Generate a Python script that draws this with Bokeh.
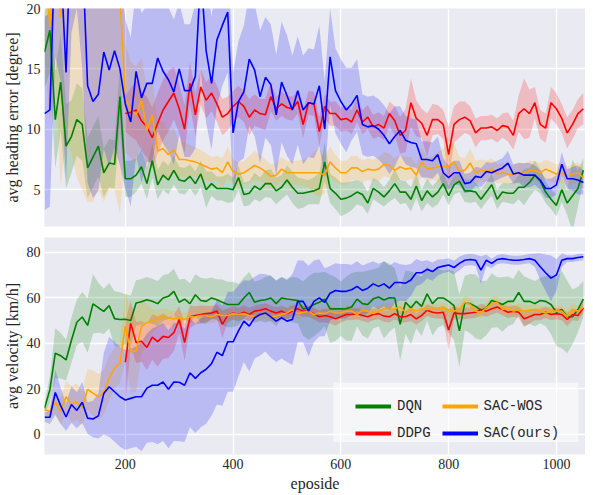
import numpy as np
from bokeh.plotting import figure
from bokeh.layouts import column
from bokeh.models import Legend, LegendItem, FixedTicker, Range1d, BoxAnnotation
from bokeh.embed import file_html
from bokeh.resources import INLINE

# ---------------- data ----------------
EP = list(range(50, 1051, 10))          # episodes 50..1050
EP_DDPG = list(range(200, 1051, 10))    # DDPG starts at 200
X_TICKS = [200, 400, 600, 800, 1000]
Y_TICKS_HEAD = [5, 10, 15, 20]
Y_TICKS_VEL = [0, 20, 40, 60, 80]

# --- avg heading error [degree] ---
DQN_HEAD = [16.4, 18.2, 10.8, 13.9, 8.6, 9.4, 10.8, 10.4, 6.8, 7.7,
            8.6, 6.4, 7.2, 7.1, 12.7, 5.9, 5.9, 6.2, 6.9, 5.5,
            7.4, 5.4, 6.2, 5.8, 6.6, 5.8, 5.7, 6.1, 5.5, 6.3,
            5.0, 5.5, 5.1, 5.1, 5.1, 5.0, 6.0, 4.6, 4.7, 5.3,
            5.0, 5.5, 5.5, 4.9, 5.2, 5.8, 5.2, 4.7, 4.7, 4.8,
            4.9, 5.1, 7.3, 5.1, 4.7, 4.2, 4.3, 4.5, 4.8, 4.6,
            3.9, 5.1, 4.8, 4.4, 4.9, 5.5, 4.8, 4.8, 4.2, 5.3,
            4.1, 4.9, 4.4, 4.8, 5.5, 4.5, 5.4, 5.7, 4.9, 4.9,
            4.8, 4.2, 4.8, 5.4, 4.2, 4.8, 4.7, 4.7, 5.2, 5.2,
            5.6, 6.2, 5.7, 4.8, 4.2, 3.7, 5.0, 3.9, 4.5, 5.1, 6.6]
DQN_HEAD_SD = [3.0, 3.5, 4.0, 4.0, 3.5, 3.0, 3.0, 3.0, 2.5, 2.5,
               2.5, 2.0, 2.0, 2.0, 2.5, 1.5, 1.5, 1.4, 1.4, 1.3,
               1.4, 1.2, 1.2, 1.2, 1.2, 1.1, 1.1, 1.0, 1.0, 1.1,
               1.5, 1.0, 1.0, 1.0, 1.2, 1.0, 1.0, 1.0, 1.0, 1.1,
               1.0, 1.1, 1.2, 1.1, 1.0, 1.2, 1.3, 1.3, 1.2, 1.0,
               1.1, 1.3, 1.6, 1.2, 1.3, 1.4, 1.3, 1.2, 1.0, 1.0,
               0.9, 0.9, 0.9, 0.8, 0.9, 1.2, 1.0, 0.9, 1.0, 1.0,
               0.9, 1.0, 0.9, 1.0, 0.9, 0.8, 0.8, 0.9, 0.9, 1.0,
               0.8, 0.8, 0.8, 0.9, 0.8, 0.8, 0.8, 0.9, 1.0, 1.5,
               1.2, 1.2, 1.0, 0.9, 0.8, 0.9, 1.0, 1.0, 3.0, 1.5, 1.0]

SACWOS_HEAD = [24.0, 18.5, 26.0, 19.3, 27.0, 30.0, 28.0, 27.0, 28.0, 26.0,
               25.0, 24.0, 24.0, 23.0, 21.0, 12.6, 11.6, 11.2, 12.4, 9.9,
               11.2, 8.2, 8.4, 7.9, 8.3, 7.5, 7.5, 7.4, 7.3, 7.1,
               6.9, 6.7, 6.8, 6.4, 7.3, 6.5, 6.3, 6.4, 6.7, 7.0,
               6.8, 6.5, 6.1, 6.2, 6.7, 6.4, 6.4, 6.4, 6.4, 6.4,
               6.4, 6.4, 6.2, 7.3, 6.8, 6.4, 6.4, 6.8, 6.8, 6.5,
               6.7, 6.6, 6.7, 7.1, 7.0, 6.6, 6.9, 6.7, 6.8, 6.2,
               7.3, 6.7, 6.8, 6.9, 6.9, 6.9, 7.3, 6.5, 6.6, 7.2,
               6.4, 6.6, 6.5, 6.7, 6.3, 6.4, 6.3, 6.2, 6.5, 6.3,
               6.6, 6.6, 6.4, 6.7, 6.5, 6.3, 6.4, 6.1, 6.3, 6.4, 6.0]
SACWOS_HEAD_SD = [8, 8, 12, 14, 18, 22, 22, 22, 24, 22,
                  20, 20, 19, 18, 18, 4.5, 4.0, 4.0, 3.5, 3.5,
                  3.0, 2.5, 2.2, 2.0, 1.8, 1.5, 1.4, 1.3, 1.2, 1.2,
                  1.1, 1.0, 1.0, 1.2, 1.3, 1.0, 1.0, 1.0, 1.1, 1.2,
                  1.1, 1.0, 1.0, 1.0, 1.0, 1.0, 1.0, 1.0, 1.1, 1.2,
                  1.8, 2.0, 1.5, 1.3, 1.1, 1.0, 1.0, 1.0, 1.0, 0.9,
                  0.9, 0.9, 1.0, 1.0, 1.0, 1.0, 1.0, 1.0, 0.9, 0.9,
                  1.2, 1.0, 1.0, 1.2, 1.5, 1.8, 1.6, 1.2, 1.0, 1.2,
                  1.0, 0.9, 0.9, 0.9, 0.8, 0.8, 0.8, 0.8, 0.8, 0.8,
                  0.8, 0.8, 0.8, 0.8, 0.8, 0.8, 0.8, 0.8, 0.8, 0.9, 0.9]

DDPG_HEAD = [11.3, 11.4, 11.6, 10.7, 10.2, 9.3, 10.5, 11.6, 12.3, 13.0,
             11.7, 10.0, 13.8, 11.2, 13.5, 12.4, 13.0, 12.1, 11.0, 11.3,
             11.9, 12.3, 11.9, 11.0, 11.6, 11.3, 11.2, 12.7, 11.7, 12.1,
             11.8, 11.7, 12.3, 10.4, 12.2, 12.1, 9.8, 11.9, 11.3, 11.3,
             10.8, 10.9, 10.6, 11.6, 10.6, 11.0, 10.2, 10.4, 10.1, 11.3,
             10.7, 9.5, 9.9, 12.2, 10.9, 10.5, 9.5, 10.8, 10.8, 10.4,
             7.9, 10.4, 10.8, 11.0, 10.7, 9.7, 10.1, 10.1, 10.2, 9.9,
             10.3, 10.2, 9.5, 11.3, 11.7, 11.3, 12.2, 10.4, 10.1, 12.2,
             11.7, 10.9, 9.7, 10.4, 11.3, 11.7]
DDPG_HEAD_SD = [1.5, 2.0, 2.5, 2.5, 2.5, 2.5, 2.5, 2.5, 2.5, 2.2,
                2.0, 2.0, 1.8, 1.8, 1.5, 1.5, 1.5, 1.5, 1.5, 1.4,
                1.3, 1.3, 1.3, 1.5, 1.3, 1.2, 1.3, 1.2, 1.0, 1.0,
                1.0, 1.0, 1.0, 1.1, 1.0, 1.0, 1.2, 1.0, 1.0, 1.0,
                1.0, 1.0, 1.0, 1.0, 1.0, 1.0, 1.0, 1.0, 1.0, 1.0,
                1.2, 1.5, 1.8, 2.0, 1.5, 1.2, 1.8, 1.3, 1.2, 1.2,
                2.3, 1.5, 1.5, 1.3, 1.2, 1.2, 1.0, 1.0, 1.0, 1.0,
                1.0, 1.2, 1.2, 1.5, 2.5, 2.0, 1.3, 1.2, 1.2, 1.3,
                1.3, 1.2, 1.3, 1.2, 1.2, 1.3]

SAC_HEAD = [11.3, 11.6, 26.0, 24.0, 14.7, 28.0, 30.0, 25.0, 13.6, 12.3,
            12.9, 16.4, 14.9, 16.5, 15.0, 12.1, 10.6, 14.8, 12.6, 13.8,
            13.8, 15.9, 14.8, 14.1, 13.1, 15.0, 13.2, 13.2, 14.4, 23.0,
            16.5, 13.8, 17.4, 18.6, 19.7, 9.7, 12.3, 13.1, 15.8, 14.9,
            12.7, 14.3, 13.7, 11.2, 13.9, 12.8, 11.6, 13.2, 11.6, 12.2,
            12.1, 13.6, 10.0, 16.0, 13.2, 12.3, 11.6, 12.1, 12.8, 10.4,
            10.2, 10.3, 10.0, 9.5, 8.8, 9.4, 9.9, 9.1, 8.9, 8.8,
            7.5, 7.5, 7.4, 7.9, 6.4, 6.0, 6.4, 6.4, 5.5, 5.6,
            6.1, 6.0, 6.5, 6.4, 6.6, 6.8, 7.2, 6.3, 6.4, 6.2,
            6.2, 6.2, 5.8, 5.1, 5.1, 5.4, 7.1, 5.9, 5.9, 5.8, 5.6]
SAC_HEAD_SD = [8, 8, 10, 10, 9, 10, 10, 10, 8, 8,
               8, 8, 8, 8, 8, 7, 7, 7, 7, 6.5,
               6.5, 6, 6, 6, 6, 5.5, 5.5, 5.5, 6, 8,
               6, 5.5, 5.5, 5, 5, 5, 5, 5.5, 5.5, 5.5,
               5.5, 5, 5, 5, 5, 5, 4.5, 4.5, 4.5, 4.5,
               4.5, 5, 4, 4, 3.5, 3.5, 3.5, 3, 3, 2.5,
               2.5, 2.5, 2.5, 2.5, 2.5, 2.5, 2, 2, 2, 2,
               1.5, 1.5, 1.5, 1.5, 1.2, 1.0, 1.0, 1.0, 0.8, 0.8,
               0.8, 0.8, 0.8, 0.8, 0.8, 0.8, 1.0, 0.8, 0.8, 1.0,
               1.0, 0.8, 0.8, 0.8, 0.8, 0.8, 1.0, 0.8, 1.0, 1.2, 1.0]

# --- avg velocity [km/h] ---
DQN_VEL = [11.3, 19.5, 35.6, 34.5, 32.6, 41.3, 49.2, 51.5, 47.8, 57.3,
           55.6, 54.0, 56.5, 50.8, 50.4, 50.5, 50.0, 57.7, 58.2, 59.1,
           58.4, 57.4, 59.9, 60.6, 62.8, 58.0, 59.4, 57.4, 61.3, 58.8,
           58.4, 59.9, 59.1, 58.0, 57.0, 57.0, 57.0, 59.9, 62.3, 58.0,
           58.8, 59.1, 59.9, 57.4, 59.9, 59.4, 59.1, 58.8, 55.1, 55.5,
           57.0, 58.0, 59.4, 55.1, 55.1, 55.1, 55.2, 55.9, 59.4, 57.4,
           57.0, 59.5, 60.3, 59.0, 60.0, 59.9, 48.3, 58.0, 55.5, 58.4,
           56.2, 61.7, 57.4, 59.9, 59.9, 58.4, 56.5, 45.4, 57.7, 57.4,
           56.2, 54.5, 55.5, 58.8, 58.0, 57.0, 58.4, 58.4, 62.3, 58.4,
           58.4, 57.4, 58.8, 58.4, 57.0, 53.6, 54.8, 51.6, 51.6, 54.8, 59.4]
DQN_VEL_SD = [2, 6, 11, 10, 9, 10, 10, 11, 12, 13,
              11, 10, 10, 12, 12, 11, 11, 10, 10, 10,
              10, 10, 10, 10, 10, 10, 9, 9, 9, 10,
              10, 9, 9, 10, 10, 10, 9, 9, 9, 9,
              9, 10, 10, 10, 9, 9, 10, 10, 12, 14,
              14, 13, 12, 15, 14, 12, 14, 15, 12, 14,
              15, 13, 13, 17, 15, 13, 16, 14, 16, 12,
              13, 12, 14, 13, 12, 14, 15, 16, 12, 13,
              14, 13, 12, 12, 11, 12, 11, 10, 10, 11,
              10, 10, 10, 11, 13, 15, 17, 16, 12, 10, 8]

SACWOS_VEL = [10.8, 9.9, 14.0, 10.0, 16.4, 13.2, 14.2, 11.5, 19.7, 18.0,
              16.4, 18.4, 24.8, 29.0, 31.2, 47.5, 36.1, 36.6, 47.5, 49.0,
              49.8, 50.7, 51.6, 51.2, 50.7, 51.2, 50.4, 51.6, 51.6, 52.2,
              52.2, 51.6, 52.6, 52.2, 52.2, 53.0, 52.6, 53.0, 52.2, 51.6,
              52.6, 53.3, 51.6, 51.9, 52.6, 53.3, 54.8, 53.0, 53.6, 54.1,
              52.6, 53.3, 53.0, 54.1, 53.3, 53.3, 54.1, 54.1, 52.6, 54.5,
              54.1, 53.0, 54.1, 55.1, 54.8, 55.1, 55.9, 53.6, 55.1, 54.1,
              55.1, 54.8, 55.1, 54.8, 55.5, 54.5, 54.1, 54.8, 58.0, 57.0,
              54.1, 53.6, 55.5, 57.4, 58.0, 54.8, 55.5, 54.1, 54.8, 54.1,
              54.5, 54.8, 54.1, 53.3, 54.1, 54.1, 54.1, 51.6, 54.8, 54.1, 55.9]
SACWOS_VEL_SD = [2, 3, 5, 6, 7, 8, 8, 8, 9, 10,
                 10, 10, 10, 9, 9, 15, 18, 18, 12, 8,
                 5, 4, 3.5, 3.5, 3.5, 3, 3, 3, 3, 3,
                 3, 3, 3, 3, 3, 2.5, 2.5, 2.5, 2.5, 2.5,
                 2.5, 2.5, 2.5, 2.5, 2.5, 2.5, 2.5, 2.5, 2.5, 2.5,
                 2.5, 2.5, 2.5, 2.5, 2.5, 2.5, 2.5, 2.5, 2.5, 2.5,
                 2.5, 2.5, 2.5, 2.5, 2.5, 2.5, 2.5, 2.5, 2.5, 2.5,
                 2.5, 2.5, 2.5, 2.5, 2.5, 2.5, 2.5, 2.5, 3, 3,
                 2.5, 2.5, 2.5, 3, 3, 2.5, 2.5, 2.5, 2.5, 2.5,
                 2.5, 2.5, 2.5, 2.5, 2.5, 2.5, 2.5, 3, 2.5, 2.5, 2.5]

DDPG_VEL = [31.6, 48.7, 40.3, 40.8, 38.1, 42.7, 40.7, 43.0, 42.5, 44.6,
            50.4, 40.3, 51.6, 52.2, 52.6, 53.0, 53.3, 54.1, 48.3, 52.2,
            53.3, 52.6, 53.6, 52.6, 54.1, 54.5, 55.1, 54.1, 53.3, 54.1,
            53.0, 54.1, 55.1, 54.1, 54.1, 53.0, 51.6, 52.2, 51.6, 50.7,
            51.6, 52.6, 52.6, 53.0, 52.2, 51.6, 52.6, 53.0, 51.9, 51.6,
            53.0, 51.6, 51.6, 52.6, 50.7, 52.2, 54.5, 53.6, 53.3, 53.6,
            45.8, 53.3, 53.0, 53.0, 53.3, 53.6, 54.8, 54.1, 55.1, 55.9,
            54.8, 53.6, 54.1, 53.6, 50.7, 51.6, 52.6, 52.6, 53.6, 52.6,
            53.0, 52.6, 50.4, 52.6, 52.2, 55.5]
DDPG_VEL_SD = [18, 10, 9, 9, 10, 10, 11, 10, 9, 8,
               6, 8, 5, 4, 4, 3.5, 3, 3, 6, 3,
               3, 3, 3, 3, 2.5, 2.5, 2.5, 2.5, 2.5, 2.5,
               2.5, 2.5, 2.5, 2.5, 2.5, 2.5, 2.5, 3, 3, 3,
               2.5, 2.5, 2.5, 2.5, 2.5, 2.5, 2.5, 2.5, 2.5, 2.5,
               2.5, 2.5, 2.5, 3, 2.5, 2.5, 2.5, 2.5, 2.5, 3,
               9, 3, 2.5, 2.5, 2.5, 2.5, 2.5, 2.5, 2.5, 2.5,
               2.5, 2.5, 2.5, 2.5, 3.5, 3, 2.5, 2.5, 2.5, 2.5,
               2.5, 2.5, 3, 2.5, 2.5, 2.5]

SAC_VEL = [7.4, 7.4, 18.3, 12.5, 7.5, 13.0, 10.4, 14.0, 7.0, 6.6,
           8.0, 17.8, 20.8, 18.6, 16.4, 15.0, 15.7, 16.4, 16.4, 20.2,
           21.5, 21.5, 22.9, 19.7, 22.9, 22.8, 21.5, 27.0, 24.5, 27.0,
           28.5, 31.0, 36.0, 34.5, 40.6, 40.6, 45.4, 49.7, 47.5, 51.2,
           52.6, 53.3, 51.6, 49.7, 51.2, 49.7, 50.4, 58.4, 58.4, 54.1,
           58.4, 59.9, 58.0, 62.0, 63.2, 62.8, 62.8, 63.5, 65.0, 63.2,
           64.2, 66.1, 65.0, 66.1, 64.2, 66.7, 66.7, 66.4, 67.8, 71.0,
           71.0, 72.5, 71.5, 73.3, 73.9, 74.4, 73.3, 75.1, 76.5, 76.8,
           76.5, 72.2, 76.5, 75.1, 76.8, 77.2, 76.8, 76.5, 76.5, 76.8,
           77.2, 76.5, 73.6, 71.0, 68.6, 70.0, 76.5, 77.2, 77.2, 77.7, 78.0]
SAC_VEL_SD = [2, 3, 10, 8, 6, 8, 8, 9, 7, 8,
              10, 18, 22, 22, 22, 22, 22, 22, 24, 24,
              25, 26, 26, 26, 26, 26, 25, 24, 24, 24,
              24, 23, 23, 22, 22, 22, 20, 18, 20, 18,
              18, 17, 18, 18, 18, 18, 20, 18, 18, 20,
              18, 17, 15, 12, 12, 12, 12, 11, 11, 11,
              11, 10, 10, 10, 10, 9, 8, 8, 7, 6,
              5, 4, 4, 3.5, 3, 3, 3, 3, 2.5, 2.5,
              2.5, 6, 2.5, 2, 2, 2, 2, 2, 2, 2,
              2, 3, 6, 8, 10, 7, 3, 1.5, 1.5, 1.5, 1.5]

LABELS = ["DQN", "DDPG", "SAC-WOS", "SAC(ours)"]
COLORS = ["green", "red", "orange", "blue"]

# ---------------- styling helpers ----------------
SERIF = "Liberation Serif"
TXT = "#262626"
BG = "#EAEAF2"


def style_axes(p):
    for ax in p.axis:
        ax.axis_line_color = None
        ax.major_tick_line_color = None
        ax.minor_tick_line_color = None
        ax.major_tick_out = 0
        ax.major_tick_in = 0
        ax.minor_tick_out = 0
        ax.minor_tick_in = 0
        ax.major_label_text_font = SERIF
        ax.major_label_text_font_size = "14px"
        ax.major_label_text_color = TXT
        ax.axis_label_text_font = SERIF
        ax.axis_label_text_font_size = "16px"
        ax.axis_label_text_font_style = "normal"
        ax.axis_label_text_color = TXT
        ax.major_label_standoff = 4
        ax.axis_label_standoff = 3
    for g in p.grid:
        g.grid_line_color = "white"
        g.grid_line_width = 1.3
    p.xgrid.ticker = FixedTicker(ticks=X_TICKS)


def add_series(p, x, m, s, color):
    m = np.array(m, dtype=float)
    s = np.array(s, dtype=float)
    p.varea(x=x, y1=m - s, y2=m + s, fill_color=color, fill_alpha=0.2)


def add_line(p, x, m, color):
    p.line(x=x, y=m, line_color=color, line_width=1.6)


# ---------------- top panel ----------------
p1 = figure(width=585, height=230, x_range=Range1d(50, 1054), y_range=Range1d(1.95, 20),
            output_backend="svg", toolbar_location=None,
            min_border_left=36, min_border_right=0, min_border_top=8, min_border_bottom=4,
            background_fill_color=BG, border_fill_color="white", outline_line_color=None)
p1.xaxis.visible = False
p1.yaxis.ticker = FixedTicker(ticks=Y_TICKS_HEAD)
p1.yaxis.axis_label = "avg heading error [degree]"
style_axes(p1)

head = [(EP, DQN_HEAD, DQN_HEAD_SD), (EP_DDPG, DDPG_HEAD, DDPG_HEAD_SD),
        (EP, SACWOS_HEAD, SACWOS_HEAD_SD), (EP, SAC_HEAD, SAC_HEAD_SD)]
for (x, m, s), c in zip(head, COLORS):
    add_series(p1, x, m, s, c)
for (x, m, s), c in zip(head, COLORS):
    add_line(p1, x, m, c)

# ---------------- bottom panel ----------------
p2 = figure(width=585, height=264, x_range=p1.x_range, y_range=Range1d(-9, 86.5),
            output_backend="svg", toolbar_location=None,
            min_border_left=36, min_border_right=0, min_border_top=7, min_border_bottom=4,
            background_fill_color=BG, border_fill_color="white", outline_line_color=None)
p2.xaxis.ticker = FixedTicker(ticks=X_TICKS)
p2.yaxis.ticker = FixedTicker(ticks=Y_TICKS_VEL)
p2.xaxis.axis_label = "eposide"
p2.yaxis.axis_label = "avg velocity [km/h]"
style_axes(p2)

vel = [(EP, DQN_VEL, DQN_VEL_SD), (EP_DDPG, DDPG_VEL, DDPG_VEL_SD),
       (EP, SACWOS_VEL, SACWOS_VEL_SD), (EP, SAC_VEL, SAC_VEL_SD)]
for (x, m, s), c in zip(vel, COLORS):
    add_series(p2, x, m, s, c)
for (x, m, s), c in zip(vel, COLORS):
    add_line(p2, x, m, c)

# legend background panel (placed in data space of the lower panel)
p2.add_layout(BoxAnnotation(left=586, right=1041, bottom=-3.5, top=22.6,
                            fill_color="white", fill_alpha=0.55, line_color=None))

# legend with thick sample lines (proxy renderers draw nothing in the plot)
items = []
for lab, c in zip(LABELS, COLORS):
    r = p2.line(x=[np.nan], y=[np.nan], line_color=c, line_width=4)
    items.append(LegendItem(label=lab, renderers=[r]))
legend = Legend(items=items, ncols=2, location=(311, 13),
                background_fill_alpha=0, border_line_color=None,
                label_text_font="Liberation Mono",
                label_text_font_size="14px", label_text_color=TXT,
                glyph_width=36, glyph_height=16, label_height=16,
                label_standoff=6, spacing=11, padding=6, margin=0)
p2.add_layout(legend, "center")

layout = column(p1, p2)
open("out.html", "w").write(file_html(layout, INLINE))
